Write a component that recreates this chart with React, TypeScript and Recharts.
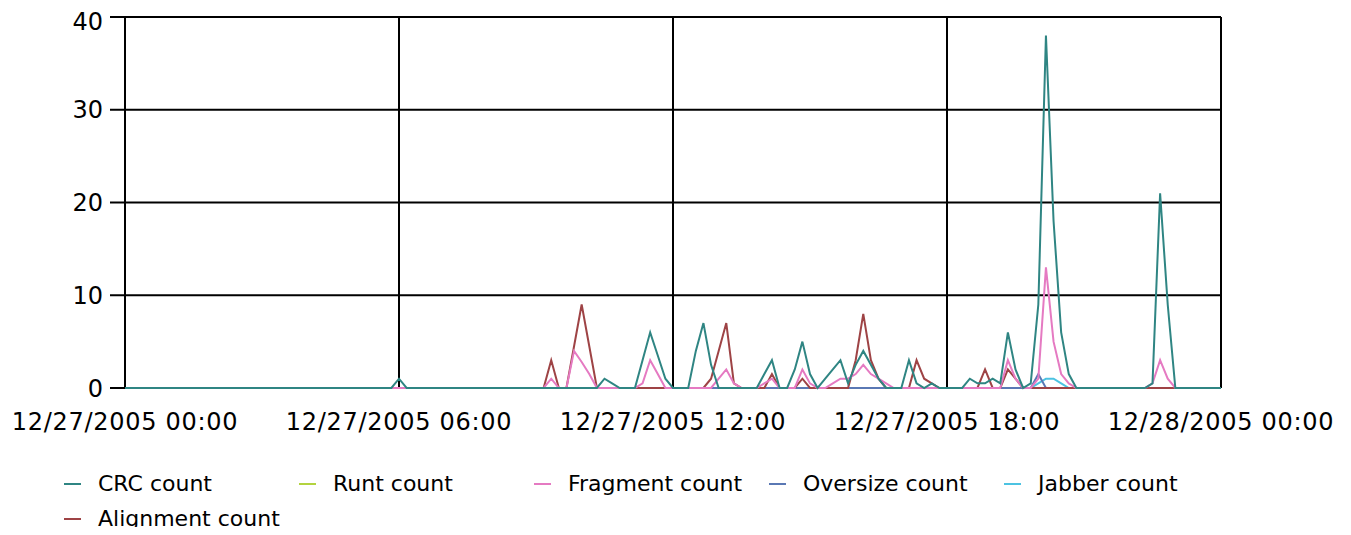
import { CartesianGrid, Legend, Line, LineChart, XAxis, YAxis } from 'recharts';

// x is a 10 minute slot index, 0 = 12/27 00:00, 144 = 12/28 00:00
const xTicks = [0, 36, 72, 108, 144];
const xTickLabels = [
  '12/27/2005 00:00',
  '12/27/2005 06:00',
  '12/27/2005 12:00',
  '12/27/2005 18:00',
  '12/28/2005 00:00',
];
const yTicks = [0, 10, 20, 30, 40];

// one row = 2 hours (12 samples)
const crcCount = [
  0, 0, 0, 0, 0, 0, 0, 0, 0, 0, 0, 0,
  0, 0, 0, 0, 0, 0, 0, 0, 0, 0, 0, 0,
  0, 0, 0, 0, 0, 0, 0, 0, 0, 0, 0, 0,
  1, 0, 0, 0, 0, 0, 0, 0, 0, 0, 0, 0,
  0, 0, 0, 0, 0, 0, 0, 0, 0, 0, 0, 0,
  0, 0, 0, 1, 0.5, 0, 0, 0, 3, 6, 3.5, 1,
  0, 0, 0, 4, 7, 2.5, 0, 0, 0, 0, 0, 0,
  1.5, 3, 0, 0, 2, 5, 1.5, 0, 1, 2, 3, 0.5,
  2.5, 4, 2.5, 1, 0, 0, 0, 3, 0.5, 0, 0.5, 0,
  0, 0, 0, 1, 0.5, 0.5, 1, 0.5, 6, 2, 0, 0.5,
  9, 38, 18, 6, 1.5, 0, 0, 0, 0, 0, 0, 0,
  0, 0, 0, 0.5, 21, 9, 0, 0, 0, 0, 0, 0,
  0,
];

const runtCount = [
  0, 0, 0, 0, 0, 0, 0, 0, 0, 0, 0, 0,
  0, 0, 0, 0, 0, 0, 0, 0, 0, 0, 0, 0,
  0, 0, 0, 0, 0, 0, 0, 0, 0, 0, 0, 0,
  0, 0, 0, 0, 0, 0, 0, 0, 0, 0, 0, 0,
  0, 0, 0, 0, 0, 0, 0, 0, 0, 0, 0, 0,
  0, 0, 0, 0, 0, 0, 0, 0, 0, 0, 0, 0,
  0, 0, 0, 0, 0, 0, 0, 0, 0, 0, 0, 0,
  0, 0, 0, 0, 0, 0, 0, 0, 0, 0, 0, 0,
  0, 0, 0, 0, 0, 0, 0, 0, 0, 0, 0, 0,
  0, 0, 0, 0, 0, 0, 0, 0, 0, 0, 0, 0,
  0, 0, 0, 0, 0, 0, 0, 0, 0, 0, 0, 0,
  0, 0, 0, 0, 0, 0, 0, 0, 0, 0, 0, 0,
  0,
];

const fragmentCount = [
  0, 0, 0, 0, 0, 0, 0, 0, 0, 0, 0, 0,
  0, 0, 0, 0, 0, 0, 0, 0, 0, 0, 0, 0,
  0, 0, 0, 0, 0, 0, 0, 0, 0, 0, 0, 0,
  0, 0, 0, 0, 0, 0, 0, 0, 0, 0, 0, 0,
  0, 0, 0, 0, 0, 0, 0, 0, 1, 0, 0, 4,
  2.8, 1.5, 0, 0, 0, 0, 0, 0, 0.5, 3, 1.5, 0,
  0, 0, 0, 0, 0, 0, 1, 2, 0.5, 0, 0, 0,
  0.5, 1, 0, 0, 0, 2, 0.5, 0, 0, 0.5, 1, 1,
  1.5, 2.5, 1.5, 1, 0.5, 0, 0, 0, 0, 0, 0, 0,
  0, 0, 0, 0, 0, 0, 0, 0, 3, 1, 0, 0,
  1, 13, 5, 1.5, 0.5, 0, 0, 0, 0, 0, 0, 0,
  0, 0, 0, 0.5, 3, 1, 0, 0, 0, 0, 0, 0,
  0,
];

const oversizeCount = [
  0, 0, 0, 0, 0, 0, 0, 0, 0, 0, 0, 0,
  0, 0, 0, 0, 0, 0, 0, 0, 0, 0, 0, 0,
  0, 0, 0, 0, 0, 0, 0, 0, 0, 0, 0, 0,
  0, 0, 0, 0, 0, 0, 0, 0, 0, 0, 0, 0,
  0, 0, 0, 0, 0, 0, 0, 0, 0, 0, 0, 0,
  0, 0, 0, 0, 0, 0, 0, 0, 0, 0, 0, 0,
  0, 0, 0, 0, 0, 0, 0, 0, 0, 0, 0, 0,
  0, 0, 0, 0, 0, 0, 0, 0, 0, 0, 0, 0,
  0, 0, 0, 0, 0, 0, 0, 0, 0, 0, 0, 0,
  0, 0, 0, 0, 0, 0, 0, 0, 0, 0, 0, 0,
  1.5, 0, 0, 0, 0, 0, 0, 0, 0, 0, 0, 0,
  0, 0, 0, 0, 0, 0, 0, 0, 0, 0, 0, 0,
  0,
];

const jabberCount = [
  0, 0, 0, 0, 0, 0, 0, 0, 0, 0, 0, 0,
  0, 0, 0, 0, 0, 0, 0, 0, 0, 0, 0, 0,
  0, 0, 0, 0, 0, 0, 0, 0, 0, 0, 0, 0,
  0, 0, 0, 0, 0, 0, 0, 0, 0, 0, 0, 0,
  0, 0, 0, 0, 0, 0, 0, 0, 0, 0, 0, 0,
  0, 0, 0, 0, 0, 0, 0, 0, 0, 0, 0, 0,
  0, 0, 0, 0, 0, 0, 0, 0, 0, 0, 0, 0,
  0, 0, 0, 0, 0, 0, 0, 0, 0, 0, 0, 0,
  0, 0, 0, 0, 0, 0, 0, 0, 0, 0, 0, 0,
  0, 0, 0, 0, 0, 0, 0, 0, 0, 0, 0, 0,
  0.5, 1, 1, 0.5, 0, 0, 0, 0, 0, 0, 0, 0,
  0, 0, 0, 0, 0, 0, 0, 0, 0, 0, 0, 0,
  0,
];

const alignmentCount = [
  0, 0, 0, 0, 0, 0, 0, 0, 0, 0, 0, 0,
  0, 0, 0, 0, 0, 0, 0, 0, 0, 0, 0, 0,
  0, 0, 0, 0, 0, 0, 0, 0, 0, 0, 0, 0,
  0, 0, 0, 0, 0, 0, 0, 0, 0, 0, 0, 0,
  0, 0, 0, 0, 0, 0, 0, 0, 3, 0, 0, 4.5,
  9, 4.5, 0, 0, 0, 0, 0, 0, 0, 0, 0, 0,
  0, 0, 0, 0, 0, 1, 4, 7, 0.5, 0, 0, 0,
  0, 1.5, 0, 0, 0, 1, 0, 0, 0, 0, 0, 0,
  3, 8, 3, 1, 0, 0, 0, 0, 3, 1, 0.5, 0,
  0, 0, 0, 0, 0, 2, 0, 0, 2, 1, 0, 0,
  0, 0, 0, 0, 0, 0, 0, 0, 0, 0, 0, 0,
  0, 0, 0, 0, 0, 0, 0, 0, 0, 0, 0, 0,
  0,
];

const data = crcCount.map((v, i) => ({
  t: i,
  crc: v,
  runt: runtCount[i],
  fragment: fragmentCount[i],
  oversize: oversizeCount[i],
  jabber: jabberCount[i],
  alignment: alignmentCount[i],
}));

const series = [
  { key: 'crc', name: 'CRC count', color: '#2f8583' },
  { key: 'runt', name: 'Runt count', color: '#b3d33f' },
  { key: 'fragment', name: 'Fragment count', color: '#e57ac2' },
  { key: 'oversize', name: 'Oversize count', color: '#5a78b4' },
  { key: 'jabber', name: 'Jabber count', color: '#4cc3e2' },
  { key: 'alignment', name: 'Alignment count', color: '#9e4345' },
];

// drawn bottom to top, CRC ends up on the zero line
const drawOrder = ['runt', 'jabber', 'oversize', 'alignment', 'fragment', 'crc'];

const font = "'DejaVu Sans', Verdana, sans-serif";

const renderLegend = () => (
  <div
    style={{
      display: 'flex',
      flexWrap: 'wrap',
      width: 1250,
      fontFamily: font,
      fontSize: 22,
      color: '#000',
    }}
  >
    {series.map((s) => (
      <div
        key={s.key}
        style={{ width: 235, height: 35, display: 'flex', alignItems: 'center' }}
      >
        <span
          style={{
            display: 'inline-block',
            width: 17,
            height: 2,
            background: s.color,
            marginRight: 17,
          }}
        />
        <span>{s.name}</span>
      </div>
    ))}
  </div>
);

export default function App() {
  return (
    <LineChart
      width={1335}
      height={519}
      data={data}
      margin={{ top: 9, right: 122, left: 0, bottom: 89 }}
      style={{ background: '#fff' }}
    >
      <CartesianGrid stroke='#000' strokeWidth={2} />
      <XAxis
        dataKey='t'
        type='number'
        domain={[0, 144]}
        ticks={xTicks}
        interval={0}
        height={50}
        tickLine={false}
        tickSize={6}
        tickMargin={19}
        axisLine={false}
        tickFormatter={(v) => xTickLabels[xTicks.indexOf(v)]}
        tick={{ fill: '#000', fontSize: 24, fontFamily: font, letterSpacing: 0.7 }}
      />
      <YAxis
        type='number'
        domain={[0, 40]}
        ticks={yTicks}
        width={117}
        tickSize={15}
        tickMargin={7}
        axisLine={false}
        tickLine={{ stroke: '#000', strokeWidth: 2 }}
        tick={{ fill: '#000', fontSize: 24, fontFamily: font }}
      />
      <Legend
        layout='horizontal'
        align='center'
        verticalAlign='middle'
        wrapperStyle={{ top: 458, left: 56, width: 1250 }}
        content={renderLegend}
      />
      {drawOrder.map((key) => {
        const s = series.find((x) => x.key === key)!;
        return (
          <Line
            key={s.key}
            type='linear'
            dataKey={s.key}
            name={s.name}
            stroke={s.color}
            strokeWidth={2}
            dot={false}
            activeDot={false}
            isAnimationActive={false}
          />
        );
      })}
    </LineChart>
  );
}
